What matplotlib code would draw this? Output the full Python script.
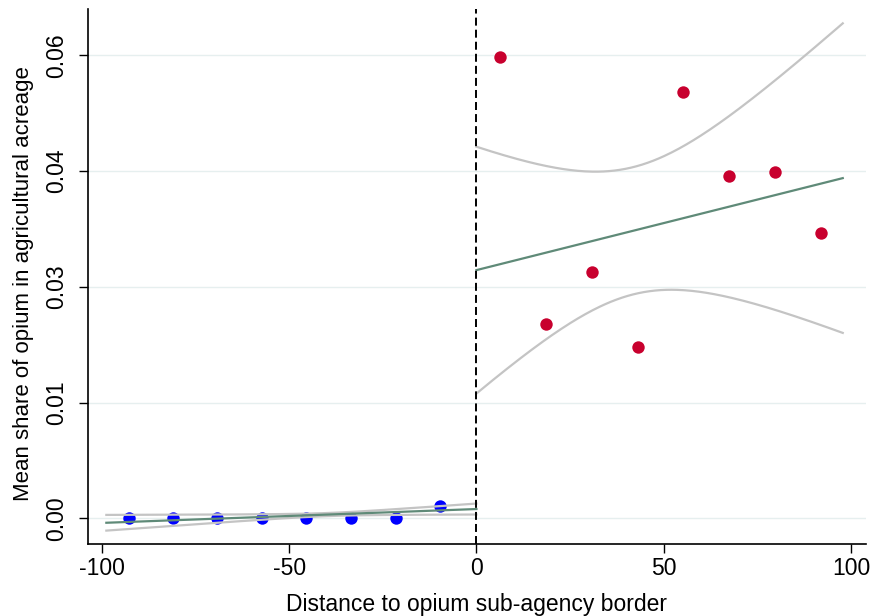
import numpy as np
import matplotlib
matplotlib.use("Agg")
import matplotlib.pyplot as plt

# ---- data ----
left_x = [-92.8, -81.0, -69.2, -57.3, -45.4, -33.4, -21.6, -9.8]
left_y = [0.0000, 0.0000, 0.0000, 0.0000, 0.0000, 0.0000, 0.0000, 0.00163]
right_x = [6.2, 18.5, 30.8, 43.1, 55.1, 67.4, 79.7, 92.0]
right_y = [0.05975, 0.02517, 0.03190, 0.02225, 0.05522, 0.04434, 0.04486, 0.03696]

# linear fits (intercept at 0, slope) and CI half-width parameters: w^2 = a + b (x - xbar)^2
left_fit = dict(lo=-98.8, hi=0.0, icpt=0.00120, slope=0.0000180, a=4.0e-8, b=2.886e-10, xbar=-40.1)
right_fit = dict(lo=0.0, hi=97.8, icpt=0.03216, slope=0.0001219, a=6.8e-5, b=1.07e-7, xbar=41.9)

xticks = [-100, -50, 0, 50, 100]
yticks = [0.0, 0.015, 0.03, 0.045, 0.06]
ytick_labels = ["0.00", "0.01", "0.03", "0.04", "0.06"]

plt.rcParams['font.family'] = ['Liberation Sans', 'DejaVu Sans']

fig = plt.figure(figsize=(8.72, 6.16), dpi=100)
ax = fig.add_axes([0.1009, 0.1164, 0.8922, 0.869])

ax.set_xlim(-103.7, 104.0)
ax.set_ylim(-0.00337, 0.0660)

for yt in yticks:
    ax.axhline(yt, color="#e6efef", lw=1.0, zorder=0)

ax.scatter(left_x, left_y, s=80, color="#0000ff", zorder=2, linewidths=0)
ax.scatter(right_x, right_y, s=80, color="#c8002e", zorder=2, linewidths=0)

for f in (left_fit, right_fit):
    xs = np.linspace(f['lo'], f['hi'], 200)
    fit = f['icpt'] + f['slope'] * xs
    w = np.sqrt(f['a'] + f['b'] * (xs - f['xbar']) ** 2)
    ax.plot(xs, fit + w, color="#c4c4c4", lw=1.6, zorder=3)
    ax.plot(xs, fit - w, color="#c4c4c4", lw=1.6, zorder=3)
    ax.plot(xs, fit, color="#5f8a78", lw=1.6, zorder=4)

ax.axvline(0, color="black", lw=1.4, dashes=(4.1, 2.1), zorder=5)

ax.spines['top'].set_visible(False)
ax.spines['right'].set_visible(False)
for s in ('left', 'bottom'):
    ax.spines[s].set_linewidth(1.2)
    ax.spines[s].set_color("black")

ax.set_xticks(xticks)
ax.set_xticklabels([str(t) for t in xticks])
ax.set_yticks(yticks)
ax.set_yticklabels(ytick_labels, rotation=90, va='center')
ax.tick_params(axis='both', direction='out', length=6.5, width=1.0, labelsize=16.5)
ax.tick_params(axis='x', pad=3)
ax.tick_params(axis='y', pad=8)

ax.set_xlabel("Distance to opium sub-agency border", fontsize=16.5, labelpad=9)
ax.set_ylabel("Mean share of opium in agricultural acreage", fontsize=16, labelpad=7.7)
ax.yaxis.label.set_y(0.487)

fig.savefig("out.png", dpi=100)
